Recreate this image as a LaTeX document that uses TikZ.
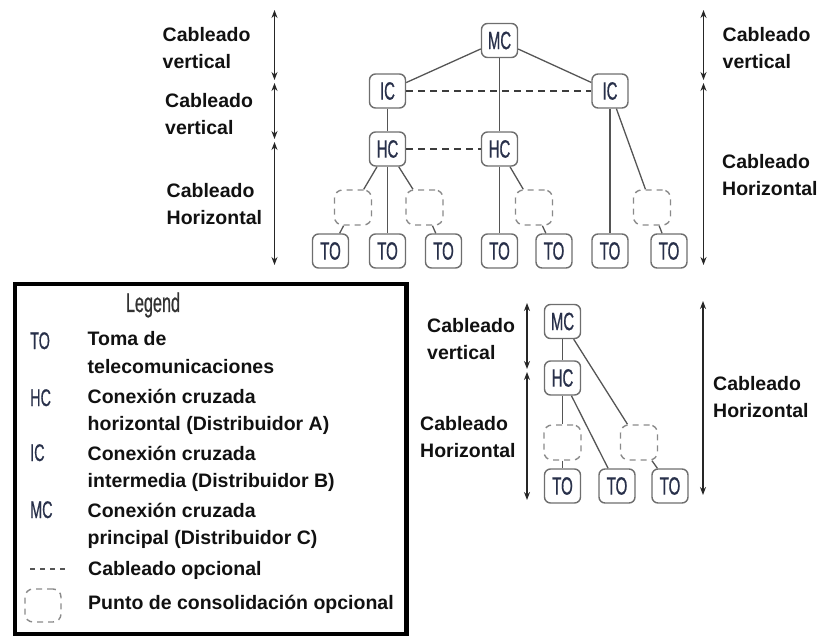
\documentclass[tikz,border=0pt]{standalone}
\usepackage{fontspec}
\setmainfont{Liberation Sans}
\newfontfamily\condfont[FakeStretch=0.6, FakeBold=0.6]{Liberation Sans}
\usetikzlibrary{arrows.meta}
\definecolor{boxgray}{HTML}{6E6E6E}
\definecolor{cpgray}{HTML}{8A8A8A}
\definecolor{linegray}{HTML}{555555}
\definecolor{nodetext}{HTML}{28304A}
\definecolor{labeltext}{HTML}{111111}
\tikzset{
  unit/.style={draw=boxgray, line width=1.4pt, rounded corners=6pt, fill=white,
    minimum width=36pt, minimum height=34pt, inner sep=0pt, text=nodetext,
    font=\condfont\fontsize{25}{25}\selectfont},
  cpbox/.style={draw=cpgray, line width=1.4pt, rounded corners=8pt,
    dash pattern=on 6pt off 5pt, minimum width=37pt, minimum height=35pt, inner sep=0pt},
  link/.style={draw=linegray, line width=1.3pt},
  optlink/.style={draw=linegray!70!black, line width=1.3pt, dash pattern=on 7pt off 5pt},
  span/.style={draw=black!85, line width=1.2pt, {Stealth[length=8pt,width=6pt]}-{Stealth[length=8pt,width=6pt]}},
  lbl/.style={anchor=base west, inner sep=0pt, text=labeltext,
    font=\bfseries\fontsize{19.5}{27}\selectfont},
  sym/.style={anchor=base west, inner sep=0pt, text=nodetext,
    font=\condfont\fontsize{24}{24}\selectfont},
}
\begin{document}
\begin{tikzpicture}[x=1pt, y=-1pt]
\useasboundingbox (0,0) rectangle (819,637);

% ---------- upper hierarchy ----------
\node[unit] (mc) at (499.5,40.5) {MC};
\node[unit] (icl) at (387.5,91) {IC};
\node[unit] (icr) at (610,91) {IC};
\node[unit] (hcl) at (387.5,149) {HC};
\node[unit] (hcm) at (499.5,149) {HC};
\node[cpbox] (cp1) at (353,207.5) {};
\node[cpbox] (cp2) at (424.5,207.5) {};
\node[cpbox] (cp3) at (534,207.5) {};
\node[cpbox] (cp4) at (652,207.5) {};
\node[unit] (to1) at (330.5,251) {TO};
\node[unit] (to2) at (387.5,251) {TO};
\node[unit] (to3) at (443.5,251) {TO};
\node[unit] (to4) at (499.5,251) {TO};
\node[unit] (to5) at (554,251) {TO};
\node[unit] (to6) at (610,251) {TO};
\node[unit] (to7) at (669,251) {TO};

\draw[link] (mc) -- (icl);
\draw[link] (mc) -- (icr);
\draw[link] (mc) -- (hcm);
\draw[optlink] (icl) -- (icr);
\draw[link] (icl) -- (hcl);
\draw[optlink] (hcl) -- (hcm);
\draw[link] (hcl) -- (cp1);
\draw[link] (hcl) -- (to2);
\draw[link] (hcl) -- (cp2);
\draw[link] (cp1) -- (to1);
\draw[link] (cp2) -- (to3);
\draw[link] (hcm) -- (to4);
\draw[link] (hcm) -- (cp3);
\draw[link] (cp3) -- (to5);
\draw[link] (icr) -- (to6);
\draw[link] (icr) -- (cp4);
\draw[link] (cp4) -- (to7);

% span arrows of the upper hierarchy
\coordinate (la1) at (274.5,10);
\coordinate (la2) at (274.5,80);
\coordinate (la3) at (274.5,83);
\coordinate (la4) at (274.5,139);
\coordinate (la5) at (274.5,142);
\coordinate (la6) at (274.5,265);
\draw[span] (la1) -- (la2);
\draw[span] (la3) -- (la4);
\draw[span] (la5) -- (la6);
\coordinate (ra1) at (703.5,10);
\coordinate (ra2) at (703.5,80);
\coordinate (ra3) at (703.5,83);
\coordinate (ra4) at (703.5,265);
\draw[span] (ra1) -- (ra2);
\draw[span] (ra3) -- (ra4);

\node[lbl] (t1a) at (162.5,41) {Cableado};
\node[lbl] (t1b) at (162.5,68.5) {vertical};
\node[lbl] (t2a) at (165,107) {Cableado};
\node[lbl] (t2b) at (165,134.5) {vertical};
\node[lbl] (t3a) at (166.5,197) {Cableado};
\node[lbl] (t3b) at (166.5,224) {Horizontal};
\node[lbl] (t4a) at (722.5,41) {Cableado};
\node[lbl] (t4b) at (722.5,68) {vertical};
\node[lbl] (t5a) at (722,168.5) {Cableado};
\node[lbl] (t5b) at (722,195.5) {Horizontal};

% ---------- lower hierarchy ----------
\node[unit] (mcb) at (562.5,321.5) {MC};
\node[unit] (hcb) at (562.5,378) {HC};
\node[cpbox] (cp5) at (562.5,442.5) {};
\node[cpbox] (cp6) at (639,442.5) {};
\node[unit] (to8) at (562.5,486) {TO};
\node[unit] (to9) at (617,486) {TO};
\node[unit] (to10) at (670,486) {TO};

\draw[link] (mcb) -- (hcb);
\draw[link] (mcb) -- (cp6);
\draw[link] (cp6) -- (to10);
\draw[link] (hcb) -- (cp5);
\draw[link] (cp5) -- (to8);
\draw[link] (hcb) -- (to9);

\coordinate (lb1) at (527,303);
\coordinate (lb2) at (527,369);
\coordinate (lb3) at (527,372);
\coordinate (lb4) at (527,500);
\draw[span] (lb1) -- (lb2);
\draw[span] (lb3) -- (lb4);
\coordinate (rb1) at (703,301);
\coordinate (rb2) at (703,495);
\draw[span] (rb1) -- (rb2);

\node[lbl] (b1a) at (427,332) {Cableado};
\node[lbl] (b1b) at (427,359) {vertical};
\node[lbl] (b2a) at (420,430) {Cableado};
\node[lbl] (b2b) at (420,457) {Horizontal};
\node[lbl] (b3a) at (713,390) {Cableado};
\node[lbl] (b3b) at (713,417) {Horizontal};

% ---------- legend ----------
\draw[line width=4.7pt, draw=black] (15,284) rectangle (406.5,634);
\node[text=black!80, inner sep=0pt, font=\condfont\fontsize{27}{27}\selectfont] (legtitle) at (153,305) {Legend};

\node[sym] (sto) at (30,349) {TO};
\node[sym] (shc) at (30,406) {HC};
\node[sym] (sic) at (30,461) {IC};
\node[sym] (smc) at (30,518) {MC};
\coordinate (dl1) at (30,569);
\coordinate (dl2) at (67,569);
\draw[draw=linegray, line width=1.3pt, dash pattern=on 5pt off 5pt] (dl1) -- (dl2);
\node[cpbox, minimum width=36pt, minimum height=33pt] (scp) at (43,605.5) {};

\node[lbl] (e1a) at (87.5,345) {Toma de};
\node[lbl] (e1b) at (87.5,373) {telecomunicaciones};
\node[lbl] (e2a) at (87.5,403) {Conexión cruzada};
\node[lbl] (e2b) at (87.5,430) {horizontal (Distribuidor A)};
\node[lbl] (e3a) at (87.5,460) {Conexión cruzada};
\node[lbl] (e3b) at (87.5,487) {intermedia (Distribuidor B)};
\node[lbl] (e4a) at (87.5,517) {Conexión cruzada};
\node[lbl] (e4b) at (87.5,544) {principal (Distribuidor C)};
\node[lbl] (e5) at (88,575) {Cableado opcional};
\node[lbl] (e6) at (88,609) {Punto de consolidación opcional};
\end{tikzpicture}
\end{document}
